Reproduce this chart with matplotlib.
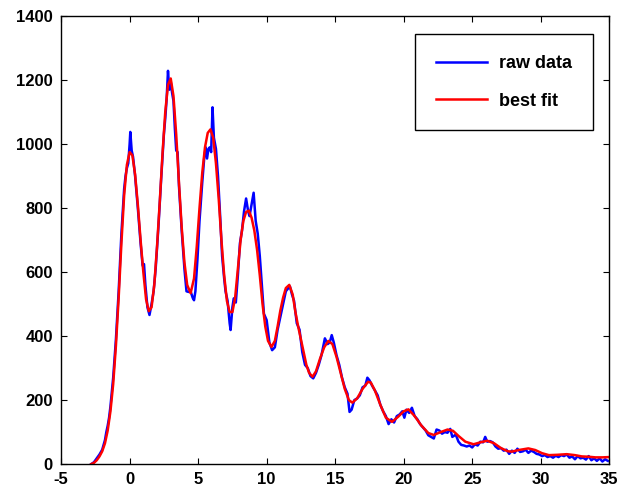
import numpy as np
import matplotlib
matplotlib.use('Agg')
import matplotlib.pyplot as plt

# raw data (blue)
raw_x = [-2.8, -2.6, -2.4, -2.2, -2.0, -1.8, -1.7, -1.6, -1.5, -1.4, -1.2, -1.0, -0.8, -0.6, -0.4, -0.3,
         -0.2, -0.1, 0.0, 0.05, 0.15, 0.25, 0.4, 0.6, 0.8, 0.95, 1.05, 1.15, 1.3, 1.45, 1.6, 1.75,
         1.9, 2.1, 2.3, 2.5, 2.6, 2.7, 2.8, 2.9, 3.0, 3.1, 3.2, 3.3, 3.4, 3.5, 3.6, 3.8, 4.0,
         4.15, 4.3, 4.45, 4.6, 4.7, 4.8, 4.95, 5.1, 5.3, 5.45, 5.55, 5.65, 5.75, 5.85, 5.95, 6.05,
         6.15, 6.3, 6.45, 6.6, 6.75, 6.9, 7.0, 7.15, 7.3, 7.37, 7.5, 7.6, 7.75, 7.9, 8.05, 8.2,
         8.35, 8.5, 8.65, 8.75, 8.85, 9.05, 9.2, 9.35, 9.5, 9.65, 9.8, 10.0, 10.2, 10.4, 10.6, 10.8,
         11.0, 11.2, 11.4, 11.55, 11.7, 11.85, 12.0, 12.2, 12.4, 12.6, 12.8, 13.0, 13.2, 13.4, 13.6,
         13.8, 14.0, 14.25, 14.45, 14.6, 14.75, 14.9, 15.1, 15.3, 15.5, 15.7, 15.9, 16.05, 16.2, 16.4,
         16.6, 16.8, 17.0, 17.2, 17.35, 17.5, 17.7, 17.9, 18.1, 18.3, 18.5, 18.7, 18.9, 19.1, 19.3,
         19.5, 19.7, 19.9, 20.05, 20.2, 20.4, 20.6, 20.8, 21.0, 21.2, 21.4, 21.6, 21.8, 22.0, 22.2,
         22.4, 22.6, 22.8, 23.0, 23.2, 23.4, 23.55, 23.8, 24.0, 24.2, 24.4, 24.6, 24.8, 25.0, 25.2,
         25.4, 25.6, 25.8, 25.95, 26.1, 26.3, 26.5, 26.7, 26.9, 27.1, 27.3, 27.5, 27.7, 27.9, 28.1,
         28.3, 28.5, 28.7, 28.9, 29.1, 29.3, 29.5, 29.7, 29.9, 30.1, 30.3, 30.5, 30.7, 30.9, 31.1,
         31.3, 31.5, 31.7, 31.9, 32.1, 32.3, 32.5, 32.7, 32.9, 33.1, 33.3, 33.5, 33.7, 33.9, 34.1,
         34.3, 34.5, 34.7, 34.9]
raw_y = [0, 6, 18, 30, 45, 75, 100, 120, 145, 180, 270, 390, 540, 720, 860, 900,
         925, 940, 1000, 1038, 980, 960, 900, 800, 690, 620, 625, 560, 490, 466, 500, 540,
         610, 740, 890, 1030, 1080, 1140, 1229, 1170, 1195, 1160, 1135, 1050, 980, 975, 870, 730, 610,
         540, 538, 540, 520, 512, 540, 640, 760, 880, 960, 990, 955, 985, 990, 975, 1115,
         1020, 985, 900, 780, 650, 580, 540, 510, 440, 419, 490, 518, 505, 590, 690, 730,
         790, 830, 790, 775, 800, 848, 760, 720, 650, 560, 470, 450, 380, 356, 365, 420,
         460, 500, 540, 548, 555, 530, 510, 440, 420, 350, 310, 300, 275, 268, 285,
         310, 340, 393, 375, 380, 403, 380, 340, 310, 270, 240, 220, 163, 170, 200,
         205, 215, 240, 245, 270, 262, 245, 230, 215, 185, 165, 150, 125, 140, 130,
         150, 155, 165, 145, 170, 160, 176, 150, 140, 125, 115, 105, 90, 85, 80,
         108, 105, 95, 100, 98, 110, 85, 92, 70, 60, 58, 55, 58, 52, 62,
         58, 70, 68, 85, 70, 72, 68, 55, 48, 50, 42, 45, 32, 42, 35,
         48, 38, 40, 45, 35, 42, 38, 32, 30, 25, 28, 22, 25, 20, 26,
         22, 28, 25, 30, 20, 24, 15, 25, 18, 20, 14, 25, 12, 18, 10,
         18, 8, 15, 10]

# best fit (red)
fit_x = [-2.8, -2.6, -2.4, -2.2, -2.0, -1.8, -1.6, -1.4, -1.2, -1.0, -0.8, -0.6, -0.4, -0.2, 0.0, 0.2,
         0.4, 0.6, 0.8, 1.0, 1.2, 1.4, 1.6, 1.8, 2.0, 2.2, 2.4, 2.6, 2.8, 3.0, 3.2, 3.4, 3.6, 3.8,
         4.0, 4.2, 4.45, 4.7, 4.9, 5.1, 5.3, 5.5, 5.7, 5.9, 6.1, 6.3, 6.5, 6.7, 6.9, 7.1, 7.3, 7.5,
         7.7, 7.9, 8.1, 8.3, 8.5, 8.7, 8.9, 9.1, 9.3, 9.5, 9.7, 9.9, 10.1, 10.35, 10.6, 10.8, 11.0,
         11.2, 11.4, 11.65, 11.9, 12.1, 12.3, 12.6, 12.9, 13.1, 13.35, 13.6, 13.9, 14.2, 14.5, 14.8,
         15.1, 15.4, 15.7, 16.0, 16.25, 16.6, 17.0, 17.4, 17.6, 17.9, 18.3, 18.7, 19.15, 19.6, 20.0,
         20.35, 20.8, 21.3, 21.8, 22.2, 22.7, 23.2, 23.6, 24.0, 24.5, 25.1, 25.6, 26.1, 26.6, 27.1,
         27.6, 27.9, 28.4, 29.1, 29.6, 30.1, 30.6, 31.2, 31.9, 32.5, 33.0, 33.5, 34.0, 34.5, 35.0]
fit_y = [0, 4, 12, 24, 40, 65, 105, 165, 250, 370, 520, 690, 840, 935, 975, 965,
         905, 810, 700, 600, 515, 478, 490, 560, 680, 820, 970, 1100, 1185, 1205, 1150, 1030, 880, 740,
         630, 560, 534, 580, 680, 800, 910, 990, 1035, 1046, 1020, 940, 830, 700, 590, 510, 475, 475,
         520, 610, 700, 760, 788, 792, 770, 730, 670, 590, 500, 430, 385, 366, 385, 430, 480,
         520, 550, 560, 530, 475, 430, 370, 310, 285, 273, 290, 330, 365, 385, 375,
         335, 285, 235, 200, 192, 205, 235, 257, 255, 230, 185, 145, 132, 148, 165,
         171, 150, 120, 97, 91, 100, 108, 104, 88, 70, 62, 68, 73, 65, 50,
         40, 39, 44, 49, 44, 34, 28, 29, 31, 28, 24, 23, 21, 21, 22]

plt.rcParams['font.family'] = ['Liberation Sans', 'DejaVu Sans']
plt.rcParams['font.weight'] = 'bold'
plt.rcParams['axes.unicode_minus'] = False

fig = plt.figure(figsize=(6.3, 4.88), dpi=100)
ax = fig.add_axes([0.097, 0.049, 0.870, 0.918])

ax.plot(raw_x, raw_y, color='#0000ff', lw=1.8, label='raw data')
ax.plot(fit_x, fit_y, color='#ff0000', lw=1.8, label='best fit')

ax.set_xlim(-5, 35)
ax.set_ylim(0, 1400)
ax.set_xticks(np.arange(-5, 36, 5))
ax.set_yticks(np.arange(0, 1401, 200))
ax.tick_params(direction='in', top=True, right=True, length=4, width=0.8,
               labelsize=12, pad=6)
for lbl in ax.get_xticklabels() + ax.get_yticklabels():
    lbl.set_fontweight('bold')
for s in ax.spines.values():
    s.set_linewidth(1.0)
    s.set_color('black')

leg = ax.legend(loc='upper right', bbox_to_anchor=(0.9708, 0.9598), borderaxespad=0,
                handlelength=2.8, handletextpad=0.7, labelspacing=1.15, borderpad=1.15,
                fancybox=False, framealpha=1, edgecolor='black',
                prop={'weight': 'bold', 'size': 13})
leg.get_frame().set_linewidth(1.0)

fig.savefig('out.png', dpi=100)
